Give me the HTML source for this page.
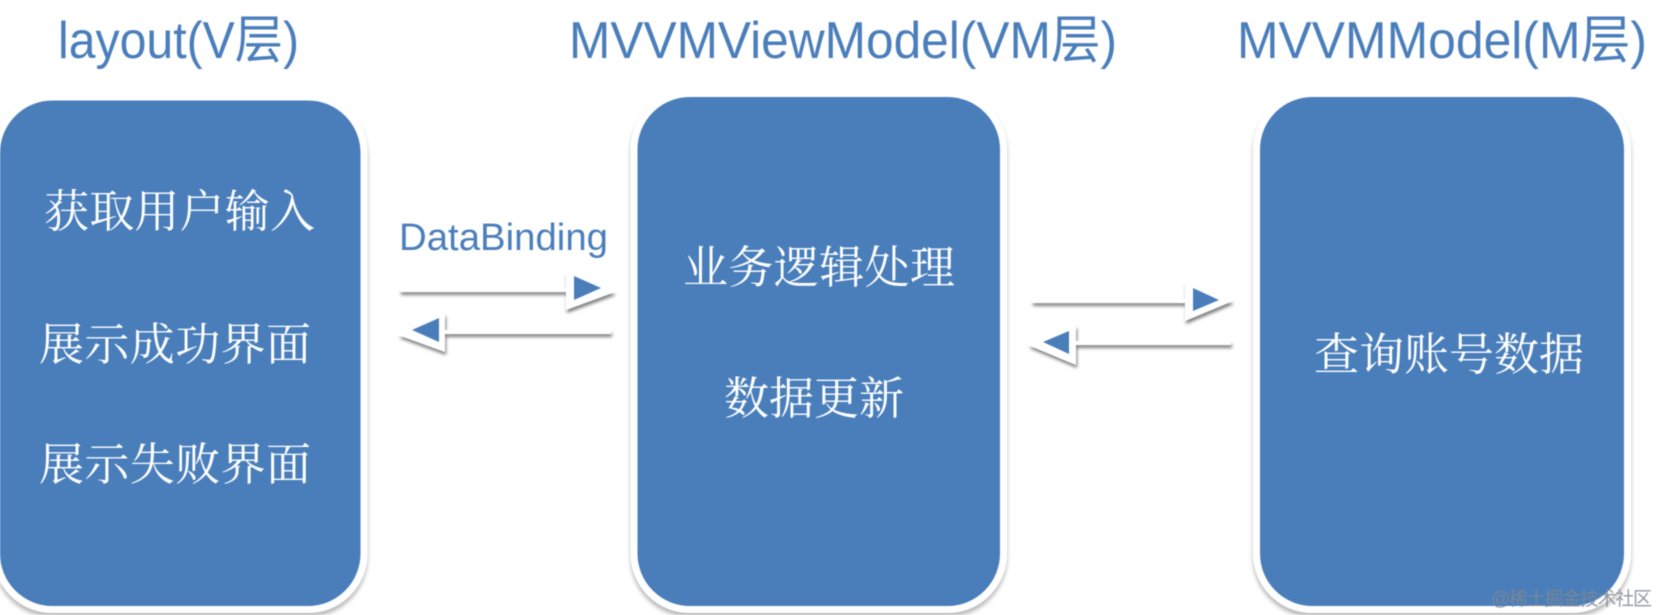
<!DOCTYPE html>
<html lang="zh">
<head>
<meta charset="utf-8">
<title>MVVM</title>
<style>
html,body{margin:0;padding:0;background:#fff;width:1658px;height:615px;overflow:hidden}
svg{display:block;filter:blur(.5px)}
.t{font-family:"Liberation Sans","Noto Sans CJK SC",sans-serif;fill:#4a7ebb}
.c{font-family:"Liberation Serif","Noto Serif CJK SC",serif;fill:#fff;font-size:45px}
</style>
</head>
<body>
<svg width="1658" height="615" viewBox="0 0 1658 615" xmlns="http://www.w3.org/2000/svg">
<defs>
<filter id="s" x="-10%" y="-10%" width="120%" height="120%">
<feDropShadow dx="0" dy="4" stdDeviation="2" flood-color="#000" flood-opacity=".28"/>
</filter>
<filter id="a" x="-20%" y="-100%" width="140%" height="400%">
<feDropShadow dx="1" dy="3" stdDeviation="1.6" flood-color="#000" flood-opacity=".5"/>
</filter>
</defs>

<text class="t" x="58" y="58" font-size="52" textLength="241" lengthAdjust="spacingAndGlyphs">layout(V层)</text>
<text class="t" x="569" y="58" font-size="52" textLength="548" lengthAdjust="spacingAndGlyphs">MVVMViewModel(VM层)</text>
<text class="t" x="1237" y="58" font-size="52" textLength="410" lengthAdjust="spacingAndGlyphs">MVVMModel(M层)</text>

<g filter="url(#s)" fill="#4a7ebb" stroke="#fff" stroke-width="7">
<rect x="-3.500" y="97" width="367.500" height="512.500" rx="56" ry="56"/>
<rect x="634" y="93.500" width="369.500" height="516" rx="56" ry="56"/>
<rect x="1256.500" y="93.500" width="371" height="516" rx="56" ry="56"/>
</g>

<text class="c" x="44" y="227" textLength="271" lengthAdjust="spacing">获取用户输入</text>
<text class="c" x="39" y="360" textLength="272" lengthAdjust="spacing">展示成功界面</text>
<text class="c" x="39" y="480" textLength="272" lengthAdjust="spacing">展示失败界面</text>
<text class="c" x="683" y="283" textLength="272" lengthAdjust="spacing">业务逻辑处理</text>
<text class="c" x="724" y="414" textLength="180" lengthAdjust="spacing">数据更新</text>
<text class="c" x="1314" y="370" textLength="270" lengthAdjust="spacing">查询账号数据</text>

<text class="t" x="399" y="250" font-size="38" textLength="209" lengthAdjust="spacingAndGlyphs">DataBinding</text>

<!-- arrow 1 -->
<g filter="url(#a)" fill="#fff">
<rect x="400" y="288" width="168" height="4"/>
<polygon points="566,272 615,292 566,310"/>
</g>
<polygon points="574,276 601,288 574,300" fill="#4a7ebb"/>

<!-- arrow 2 -->
<g filter="url(#a)" fill="#fff">
<rect x="443" y="330" width="168" height="4"/>
<polygon points="445,313 398,335 445,352"/>
</g>
<polygon points="412,330 439,318 439,342" fill="#4a7ebb"/>

<!-- arrow 3 -->
<g filter="url(#a)" fill="#fff">
<rect x="1032" y="299" width="155" height="4"/>
<polygon points="1185,282 1233,301 1185,321"/>
</g>
<polygon points="1193,288 1219,300 1193,311" fill="#4a7ebb"/>

<!-- arrow 4 -->
<g filter="url(#a)" fill="#fff">
<rect x="1074" y="341" width="157" height="4"/>
<polygon points="1076,325 1028,345 1076,365"/>
</g>
<polygon points="1043,342 1069,331 1069,354" fill="#4a7ebb"/>

<text x="1491" y="605" font-family="&quot;Liberation Sans&quot;,&quot;Noto Sans CJK SC&quot;,sans-serif" font-size="19" fill="#7f8792" fill-opacity=".85" textLength="161" lengthAdjust="spacing">@稀土掘金技术社区</text>
</svg>
</body>
</html>
